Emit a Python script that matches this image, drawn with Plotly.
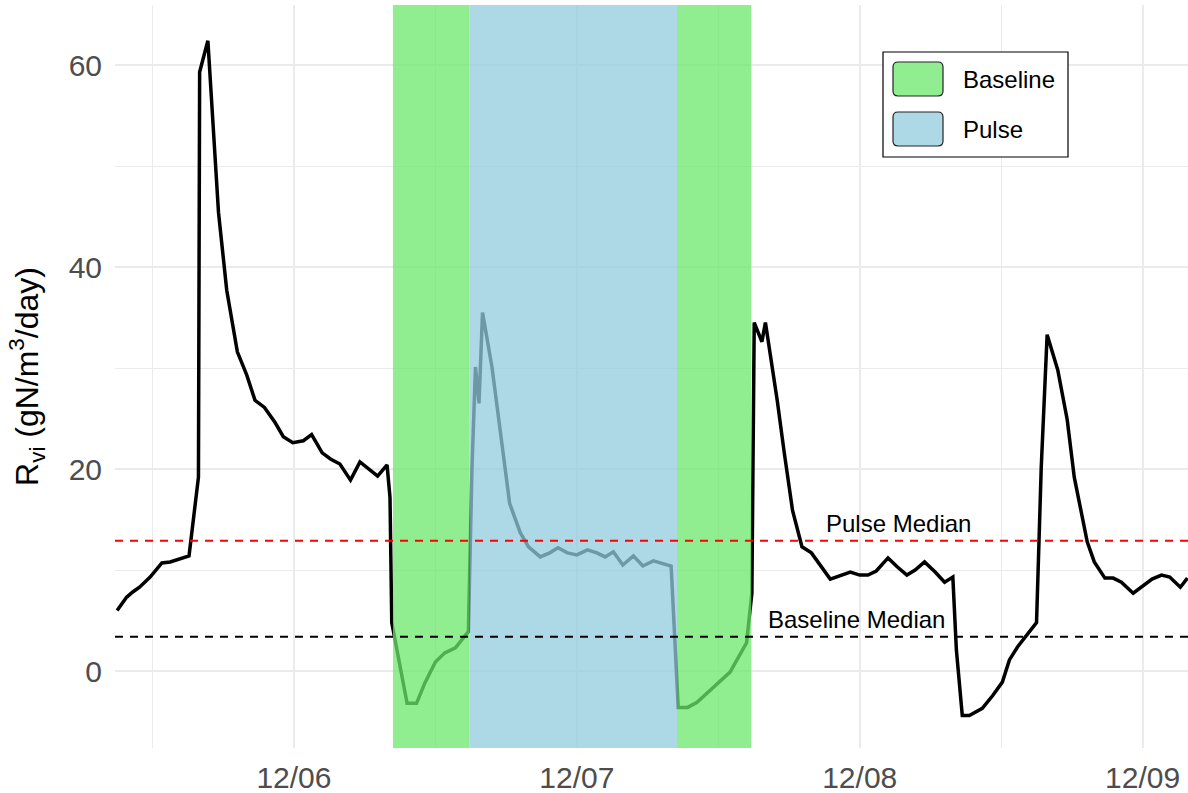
import plotly.graph_objects as go
import pandas as pd

# ---- data (hours since 2023-12-06 00:00, value in gN/m3/day) ----
hours = [-15.0, -14.2, -13.7, -13.1, -12.2, -11.2, -10.5, -9.8, -8.9, -8.1,
         -8.0, -7.3, -6.4, -5.7, -4.8, -4.0, -3.3, -2.5, -1.6, -0.9,
         -0.1, 0.8, 1.5, 2.4, 3.1, 3.9, 4.8, 5.6, 7.1, 7.9,
         8.15, 8.3, 9.6, 10.4, 11.1, 12.0, 12.8, 13.7, 14.8, 15.1,
         15.4, 15.7, 16.0, 16.8, 17.5, 18.3, 19.2, 19.9, 20.9, 21.7,
         22.4, 23.2, 24.0, 24.9, 25.7, 26.4, 27.1, 27.9, 28.8, 29.6,
         30.5, 31.2, 32.0, 32.6, 33.4, 34.2, 35.5, 37.0, 38.4, 38.85,
         39.05, 39.7, 40.0, 41.0, 41.6, 42.3, 43.1, 43.9, 45.5, 46.3,
         47.2, 48.0, 48.7, 49.4, 50.4, 51.2, 52.0, 52.7, 53.5, 54.4,
         55.2, 55.9, 56.2, 56.7, 57.3, 58.4, 59.3, 60.1, 60.7, 61.4,
         62.2, 63.0, 63.4, 63.9, 64.8, 65.6, 66.2, 67.3, 67.9, 68.8,
         69.5, 70.2, 71.2, 71.9, 72.8, 73.6, 74.3, 75.2, 75.8]
rvi = [6.0, 7.3, 7.8, 8.3, 9.3, 10.7, 10.8, 11.1, 11.4, 19.2,
       59.3, 62.4, 45.4, 37.7, 31.6, 29.3, 26.8, 26.1, 24.6, 23.2,
       22.6, 22.8, 23.4, 21.6, 21.0, 20.5, 18.9, 20.7, 19.3, 20.4,
       17.2, 4.8, -3.2, -3.2, -1.2, 0.9, 1.8, 2.3, 3.9, 19.9,
       30.1, 26.5, 35.5, 30.1, 23.6, 16.6, 13.7, 12.3, 11.3, 11.7,
       12.2, 11.7, 11.5, 12.0, 11.7, 11.3, 11.8, 10.5, 11.4, 10.4,
       10.9, 10.7, 10.4, -3.6, -3.6, -3.1, -1.7, -0.1, 2.8, 7.7,
       34.5, 32.6, 34.5, 26.8, 21.6, 15.9, 12.3, 11.7, 9.1, 9.4,
       9.8, 9.5, 9.5, 9.9, 11.2, 10.3, 9.5, 10.0, 10.8, 9.8,
       8.8, 9.3, 2.1, -4.4, -4.4, -3.7, -2.4, -1.1, 1.1, 2.4,
       3.6, 4.8, 20.2, 33.3, 29.8, 24.9, 19.2, 12.8, 10.8, 9.2,
       9.2, 8.8, 7.7, 8.3, 9.1, 9.5, 9.3, 8.3, 9.2]

baseline_periods = [(8.4, 14.9), (32.5, 38.8)]
pulse_periods = [(14.9, 32.5)]
pulse_median = 12.9
baseline_median = 3.4
legend_labels = ["Baseline", "Pulse"]

BASE = pd.Timestamp("2023-12-06 00:00")


def t(h):
    return BASE + pd.Timedelta(hours=h)


times = [t(h) for h in hours]

FONT = "Liberation Sans, Arial, sans-serif"
fig = go.Figure()
fig.add_trace(go.Scatter(x=times, y=rvi, mode="lines",
                         line=dict(color="black", width=3.5),
                         showlegend=False, hoverinfo="skip"))

shapes = []
GREEN_FILL = "rgb(107,232,107)"
BLUE_FILL = "rgb(146,203,222)"
for a, b in baseline_periods:
    shapes.append(dict(type="rect", xref="x", yref="paper", x0=t(a), x1=t(b),
                       y0=0, y1=1, fillcolor=GREEN_FILL, opacity=0.75,
                       line=dict(width=0), layer="above"))
for a, b in pulse_periods:
    shapes.append(dict(type="rect", xref="x", yref="paper", x0=t(a), x1=t(b),
                       y0=0, y1=1, fillcolor=BLUE_FILL, opacity=0.75,
                       line=dict(width=0), layer="above"))
shapes.append(dict(type="line", xref="paper", yref="y", x0=0, x1=1,
                   y0=pulse_median, y1=pulse_median,
                   line=dict(color="red", width=2, dash="8px,7px"), layer="above"))
shapes.append(dict(type="line", xref="paper", yref="y", x0=0, x1=1,
                   y0=baseline_median, y1=baseline_median,
                   line=dict(color="black", width=2, dash="8px,7px"), layer="above"))

# ---- manual legend (paper coordinates) ----
PX0, PX1, PY0, PY1 = 115, 1188, 5, 748


def px(x):
    return (x - PX0) / (PX1 - PX0)


def py(y):
    return (PY1 - y) / (PY1 - PY0)


def rounded(x0, y0, x1, y1, r=5):
    rx = r / (PX1 - PX0)
    ry = r / (PY1 - PY0)
    X0, X1, Yt, Yb = px(x0), px(x1), py(y0), py(y1)
    return (f"M{X0+rx},{Yb} L{X1-rx},{Yb} Q{X1},{Yb} {X1},{Yb+ry} "
            f"L{X1},{Yt-ry} Q{X1},{Yt} {X1-rx},{Yt} L{X0+rx},{Yt} "
            f"Q{X0},{Yt} {X0},{Yt-ry} L{X0},{Yb+ry} Q{X0},{Yb} {X0+rx},{Yb} Z")


shapes.append(dict(type="rect", xref="paper", yref="paper",
                   x0=px(883), x1=px(1068), y0=py(157), y1=py(52),
                   fillcolor="white", line=dict(color="black", width=1.2),
                   layer="above"))
shapes.append(dict(type="path", xref="paper", yref="paper",
                   path=rounded(893, 62, 943, 96), fillcolor="#90EE90",
                   line=dict(color="#222222", width=1.2), layer="above"))
shapes.append(dict(type="path", xref="paper", yref="paper",
                   path=rounded(893, 112, 943, 146), fillcolor="#ADD8E6",
                   line=dict(color="#222222", width=1.2), layer="above"))

annotations = [
    dict(xref="paper", yref="paper", x=px(961), y=py(79), text=legend_labels[0],
         showarrow=False, xanchor="left", yanchor="middle",
         font=dict(family=FONT, size=24, color="black")),
    dict(xref="paper", yref="paper", x=px(961), y=py(129), text=legend_labels[1],
         showarrow=False, xanchor="left", yanchor="middle",
         font=dict(family=FONT, size=24, color="black")),
    dict(xref="x", yref="y", x=t(51.3), y=pulse_median, text="Pulse Median",
         showarrow=False, xanchor="center", yanchor="bottom", yshift=2,
         font=dict(family=FONT, size=24, color="black")),
    dict(xref="x", yref="y", x=t(47.7), y=baseline_median, text="Baseline Median",
         showarrow=False, xanchor="center", yanchor="bottom", yshift=2,
         font=dict(family=FONT, size=24, color="black")),
]

fig.update_layout(
    width=1188, height=793,
    margin=dict(l=PX0, r=1188 - PX1, t=PY0, b=793 - PY1, autoexpand=False),
    paper_bgcolor="white", plot_bgcolor="white",
    shapes=shapes, annotations=annotations,
    showlegend=False,
    font=dict(family=FONT),
)
fig.update_xaxes(
    type="date", range=[t(-15.18), t(75.85)],
    tick0=BASE, dtick=86400000, tickformat="%m/%d",
    showgrid=True, gridcolor="#EBEBEB", gridwidth=1.5,
    minor=dict(dtick=43200000, tick0=BASE, showgrid=True,
               gridcolor="#EBEBEB", gridwidth=1.2),
    zeroline=False, showline=False,
    ticks="outside", ticklen=3, tickcolor="rgba(0,0,0,0)",
    tickfont=dict(family=FONT, size=30, color="#4D4D4D"),
    automargin=False,
)
fig.update_yaxes(
    range=[-7.62, 65.94], tick0=0, dtick=20,
    showgrid=True, gridcolor="#EBEBEB", gridwidth=1.5,
    minor=dict(dtick=10, showgrid=True, gridcolor="#EBEBEB", gridwidth=1.2),
    zeroline=False, showline=False,
    ticks="outside", ticklen=6, tickcolor="rgba(0,0,0,0)",
    tickfont=dict(family=FONT, size=30, color="#4D4D4D"),
    title=dict(text="R<sub>vi</sub> (gN/m<sup>3</sup>/day)",
               font=dict(family=FONT, size=32, color="black"), standoff=20),
    automargin=False,
)

fig.write_html("out.html", config={"displayModeBar": False},
               post_script="document.body.style.margin='0px';"
                           "document.body.style.overflow='hidden';")
